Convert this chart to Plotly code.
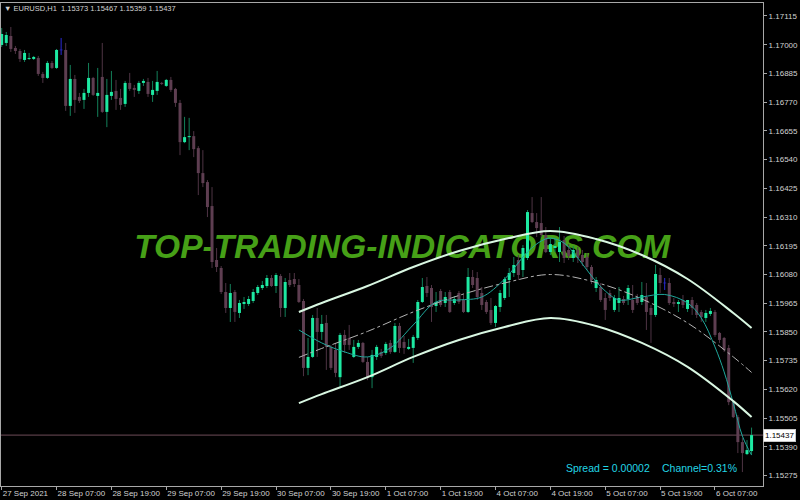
import plotly.graph_objects as go

# ---------------- data (EURUSD H1) ----------------
opens = [1.16999, 1.17007, 1.17035, 1.16987, 1.16975, 1.16939, 1.16943, 1.16943, 1.16947, 1.16883,
         1.16867, 1.16927, 1.16907, 1.16979, 1.16979, 1.16755, 1.16863, 1.16791, 1.16779, 1.16807,
         1.16867, 1.16795, 1.16871, 1.16731, 1.16795, 1.16815, 1.16787, 1.16763, 1.16847, 1.16827,
         1.16815, 1.16847, 1.16851, 1.16799, 1.16815, 1.16847, 1.16835, 1.16859, 1.16823, 1.16767,
         1.16610, 1.16630, 1.16634, 1.16586, 1.16486, 1.16450, 1.16354, 1.16138, 1.16106, 1.16010,
         1.15946, 1.16010, 1.15926, 1.15962, 1.15962, 1.15974, 1.16006, 1.16026, 1.16034, 1.16066,
         1.16034, 1.16074, 1.15946, 1.16058, 1.16062, 1.16038, 1.15974, 1.15706, 1.15750, 1.15906,
         1.15850, 1.15886, 1.15790, 1.15778, 1.15669, 1.15838, 1.15826, 1.15750, 1.15790, 1.15806,
         1.15730, 1.15669, 1.15750, 1.15770, 1.15766, 1.15806, 1.15770, 1.15874, 1.15810, 1.15782,
         1.15786, 1.15826, 1.15970, 1.16034, 1.16026, 1.15954, 1.16014, 1.15966, 1.16010, 1.15966,
         1.16006, 1.15978, 1.15930, 1.16070, 1.16066, 1.16006, 1.15970, 1.15938, 1.15886, 1.15950,
         1.15986, 1.16058, 1.16086, 1.16138, 1.16098, 1.16146, 1.16326, 1.16290, 1.16286, 1.16238,
         1.16170, 1.16186, 1.16170, 1.16218, 1.16178, 1.16146, 1.16178, 1.16158, 1.16150, 1.16110,
         1.16026, 1.16030, 1.15986, 1.16006, 1.15938, 1.15966, 1.15982, 1.15982, 1.15978, 1.15990,
         1.15970, 1.15990, 1.15946, 1.15918, 1.16078, 1.16046, 1.16046, 1.15970, 1.15962, 1.15978,
         1.15942, 1.15978, 1.15958, 1.15930, 1.15906, 1.15922, 1.15930, 1.15846, 1.15826, 1.15786,
         1.15569, 1.15509, 1.15409, 1.15361, 1.15373]
highs = [1.17067, 1.17051, 1.17071, 1.16995, 1.16983, 1.16979, 1.16967, 1.16955, 1.16955, 1.16891,
         1.16935, 1.16935, 1.16983, 1.17027, 1.17007, 1.16919, 1.16879, 1.16807, 1.16823, 1.16927,
         1.16871, 1.16907, 1.17007, 1.16863, 1.16895, 1.16859, 1.16823, 1.16855, 1.16887, 1.16839,
         1.16855, 1.16863, 1.16867, 1.16855, 1.16895, 1.16851, 1.16863, 1.16871, 1.16827, 1.16779,
         1.16711, 1.16707, 1.16654, 1.16594, 1.16578, 1.16458, 1.16430, 1.16186, 1.16114, 1.16046,
         1.16042, 1.16018, 1.15978, 1.15990, 1.15994, 1.16022, 1.16038, 1.16054, 1.16078, 1.16078,
         1.16086, 1.16082, 1.16066, 1.16086, 1.16086, 1.16062, 1.15982, 1.15826, 1.15918, 1.15946,
         1.15918, 1.15918, 1.15798, 1.15806, 1.15846, 1.15858, 1.15878, 1.15818, 1.15818, 1.15810,
         1.15750, 1.15778, 1.15798, 1.15782, 1.15810, 1.15818, 1.15886, 1.15886, 1.15834, 1.15822,
         1.15838, 1.15978, 1.16066, 1.16070, 1.16038, 1.16010, 1.16022, 1.16010, 1.16018, 1.15994,
         1.16014, 1.15998, 1.16106, 1.16098, 1.16090, 1.16030, 1.15978, 1.15986, 1.15958, 1.16018,
         1.16070, 1.16106, 1.16150, 1.16158, 1.16198, 1.16338, 1.16390, 1.16326, 1.16390, 1.16270,
         1.16226, 1.16226, 1.16270, 1.16234, 1.16202, 1.16194, 1.16190, 1.16178, 1.16166, 1.16118,
         1.16070, 1.16046, 1.16006, 1.16018, 1.15998, 1.16030, 1.15994, 1.16038, 1.16038, 1.16002,
         1.16050, 1.16046, 1.15958, 1.16118, 1.16106, 1.16066, 1.16066, 1.15986, 1.15978, 1.15998,
         1.15978, 1.15990, 1.15966, 1.15938, 1.15938, 1.15946, 1.15938, 1.15850, 1.15830, 1.15798,
         1.15577, 1.15517, 1.15425, 1.15417, 1.15467]
lows = [1.16991, 1.16995, 1.16971, 1.16963, 1.16931, 1.16931, 1.16939, 1.16939, 1.16875, 1.16847,
        1.16863, 1.16903, 1.16903, 1.16959, 1.16735, 1.16715, 1.16727, 1.16767, 1.16743, 1.16791,
        1.16795, 1.16711, 1.16727, 1.16670, 1.16779, 1.16739, 1.16739, 1.16751, 1.16815, 1.16791,
        1.16803, 1.16835, 1.16791, 1.16771, 1.16799, 1.16839, 1.16831, 1.16811, 1.16751, 1.16558,
        1.16606, 1.16578, 1.16550, 1.16398, 1.16430, 1.16310, 1.16106, 1.16090, 1.16002, 1.15926,
        1.15890, 1.15890, 1.15906, 1.15942, 1.15954, 1.15966, 1.15998, 1.16018, 1.16026, 1.16030,
        1.16006, 1.15910, 1.15910, 1.16030, 1.16030, 1.15966, 1.15673, 1.15677, 1.15746, 1.15750,
        1.15818, 1.15698, 1.15698, 1.15669, 1.15629, 1.15766, 1.15778, 1.15746, 1.15782, 1.15726,
        1.15657, 1.15625, 1.15738, 1.15746, 1.15758, 1.15762, 1.15766, 1.15766, 1.15762, 1.15778,
        1.15726, 1.15818, 1.15966, 1.15990, 1.15890, 1.15930, 1.15950, 1.15950, 1.15926, 1.15958,
        1.15962, 1.15926, 1.15926, 1.16026, 1.15978, 1.15938, 1.15922, 1.15878, 1.15870, 1.15930,
        1.15978, 1.15990, 1.16070, 1.16058, 1.16070, 1.16138, 1.16286, 1.16230, 1.16230, 1.16166,
        1.16158, 1.16170, 1.16130, 1.16126, 1.16138, 1.16130, 1.16126, 1.16114, 1.16098, 1.16042,
        1.16010, 1.15970, 1.15898, 1.15974, 1.15930, 1.15930, 1.15958, 1.15958, 1.15926, 1.15958,
        1.15958, 1.15858, 1.15806, 1.15910, 1.16006, 1.16018, 1.15958, 1.15950, 1.15930, 1.15946,
        1.15930, 1.15918, 1.15906, 1.15890, 1.15890, 1.15914, 1.15830, 1.15806, 1.15770, 1.15557,
        1.15505, 1.15365, 1.15289, 1.15357, 1.15359]
closes = [1.17043, 1.17039, 1.16983, 1.16975, 1.16943, 1.16967, 1.16947, 1.16951, 1.16883, 1.16867,
          1.16927, 1.16907, 1.16979, 1.16979, 1.16755, 1.16863, 1.16779, 1.16775, 1.16807, 1.16867,
          1.16799, 1.16807, 1.16731, 1.16799, 1.16811, 1.16783, 1.16759, 1.16847, 1.16823, 1.16819,
          1.16847, 1.16855, 1.16803, 1.16819, 1.16851, 1.16843, 1.16859, 1.16819, 1.16767, 1.16610,
          1.16630, 1.16634, 1.16582, 1.16486, 1.16446, 1.16350, 1.16130, 1.16110, 1.16010, 1.15946,
          1.16006, 1.15930, 1.15966, 1.15970, 1.15982, 1.16010, 1.16030, 1.16038, 1.16066, 1.16034,
          1.16078, 1.15946, 1.16050, 1.16038, 1.16042, 1.15970, 1.15706, 1.15750, 1.15906, 1.15850,
          1.15882, 1.15790, 1.15706, 1.15686, 1.15838, 1.15798, 1.15798, 1.15790, 1.15806, 1.15730,
          1.15665, 1.15758, 1.15790, 1.15754, 1.15802, 1.15770, 1.15874, 1.15786, 1.15786, 1.15790,
          1.15830, 1.15970, 1.16030, 1.16006, 1.15950, 1.15970, 1.15958, 1.15990, 1.15930, 1.15982,
          1.15970, 1.15930, 1.16070, 1.16038, 1.15990, 1.15958, 1.15930, 1.15886, 1.15954, 1.16006,
          1.16062, 1.16086, 1.16118, 1.16078, 1.16186, 1.16330, 1.16290, 1.16266, 1.16238, 1.16170,
          1.16202, 1.16194, 1.16210, 1.16146, 1.16154, 1.16178, 1.16146, 1.16130, 1.16110, 1.16058,
          1.16058, 1.15978, 1.15938, 1.15986, 1.15986, 1.15986, 1.15966, 1.16026, 1.15938, 1.15966,
          1.15998, 1.15930, 1.15918, 1.16082, 1.16046, 1.16046, 1.15966, 1.15962, 1.15970, 1.15958,
          1.15978, 1.15946, 1.15918, 1.15910, 1.15926, 1.15934, 1.15838, 1.15818, 1.15778, 1.15569,
          1.15509, 1.15409, 1.15365, 1.15377, 1.15437]

x_tick_bars = [0, 12, 24, 36, 48, 60, 72, 84, 96, 108, 120, 132, 144, 156]
x_tick_labels = ["27 Sep 2021", "28 Sep 07:00", "28 Sep 19:00", "29 Sep 07:00", "29 Sep 19:00",
                 "30 Sep 07:00", "30 Sep 19:00", "1 Oct 07:00", "1 Oct 19:00", "4 Oct 07:00",
                 "4 Oct 19:00", "5 Oct 07:00", "5 Oct 19:00", "6 Oct 07:00"]
y_ticks = [1.15275, 1.15390, 1.15505, 1.15620, 1.15735, 1.15850, 1.15965, 1.16080, 1.16195,
           1.16310, 1.16425, 1.16540, 1.16655, 1.16770, 1.16885, 1.17000, 1.17115]

# regression channel (read at sample bars)
chan_bars = [65, 70, 80, 90, 100, 110, 120, 130, 140, 150, 160, 164]
chan_upper = [1.15930, 1.15966, 1.16034, 1.16110, 1.16174, 1.16222, 1.16254, 1.16222, 1.16158,
              1.16062, 1.15926, 1.15866]
chan_mid = [1.15748, 1.15784, 1.15852, 1.15930, 1.15996, 1.16046, 1.16080, 1.16048, 1.15982,
            1.15886, 1.15750, 1.15688]
chan_lower = [1.15565, 1.15601, 1.15669, 1.15750, 1.15818, 1.15870, 1.15906, 1.15874, 1.15806,
              1.15710, 1.15573, 1.15509]

# smoothing line
smooth_bars = [65, 70, 75, 80, 85, 90, 95, 100, 105, 110, 115, 118, 120, 123, 126, 129, 132, 135,
               140, 145, 150, 153, 156, 158, 160, 162, 164]
smooth_vals = [1.15858, 1.15806, 1.15770, 1.15750, 1.15786, 1.15878, 1.15970, 1.15978, 1.15990,
               1.16062, 1.16170, 1.16214, 1.16226, 1.16206, 1.16146, 1.16074, 1.16014, 1.15978,
               1.15990, 1.16000, 1.15966, 1.15906, 1.15790, 1.15690, 1.15565, 1.15433, 1.15357]

symbol = "EURUSD,H1"
spread_text = "Spread = 0.00002"
channel_text = "Channel=0.31%"
watermark = "TOP-TRADING-INDICATORS.COM"

# ---------------- styling ----------------
BULL_BODY = "#1de9a2"
BULL_WICK = "#13805a"
BEAR_BODY = "#5e3e51"
BEAR_WICK = "#4e3444"
DOJI = "#2a2ad8"
FONT = "Liberation Sans"

n = len(opens)
MIN_BODY = 0.000025

wick = {"bull": ([], []), "bear": ([], []), "doji": ([], [])}
body = {"bull": ([], []), "bear": ([], []), "doji": ([], [])}
for i in range(n):
    o, h, l, c = opens[i], highs[i], lows[i], closes[i]
    kind = "bull" if c > o else ("bear" if c < o else "doji")
    wx, wy = wick[kind]
    wx += [i, i, None]
    wy += [h, l, None]
    lo, hi = min(o, c), max(o, c)
    if hi - lo < MIN_BODY:
        mid = (hi + lo) / 2
        lo, hi = mid - MIN_BODY / 2, mid + MIN_BODY / 2
    bx, by = body[kind]
    bx += [i, i, None]
    by += [lo, hi, None]

fig = go.Figure()

# watermark (drawn first so the chart sits on top of it)
fig.add_trace(go.Scatter(
    x=[87.6], y=[1.16178], mode="text", text=[watermark],
    textfont=dict(family=FONT, size=33.5, color="#46a017", weight="bold", style="italic"),
    hoverinfo="skip", showlegend=False))

wick_col = {"bull": BULL_WICK, "bear": BEAR_WICK, "doji": DOJI}
body_col = {"bull": BULL_BODY, "bear": BEAR_BODY, "doji": DOJI}
for k in ["bear", "bull", "doji"]:
    fig.add_trace(go.Scatter(x=wick[k][0], y=wick[k][1], mode="lines",
                             line=dict(color=wick_col[k], width=1),
                             hoverinfo="skip", showlegend=False))
for k in ["bear", "bull", "doji"]:
    fig.add_trace(go.Scatter(x=body[k][0], y=body[k][1], mode="lines",
                             line=dict(color=body_col[k], width=3),
                             hoverinfo="skip", showlegend=False))

# indicator lines
fig.add_trace(go.Scatter(x=smooth_bars, y=smooth_vals, mode="lines", line_shape="spline",
                         line=dict(color="#1fa89c", width=1), hoverinfo="skip", showlegend=False))
fig.add_trace(go.Scatter(x=chan_bars, y=chan_mid, mode="lines", line_shape="spline",
                         line=dict(color="#b4b4b4", width=1, dash="dashdot"),
                         hoverinfo="skip", showlegend=False))
for arr in (chan_upper, chan_lower):
    fig.add_trace(go.Scatter(x=chan_bars, y=arr, mode="lines", line_shape="spline",
                             line=dict(color="#d9f7e2", width=2),
                             hoverinfo="skip", showlegend=False))

last_close = closes[-1]
fig.add_shape(type="line", xref="paper", x0=0, x1=1, yref="y", y0=last_close, y1=last_close,
              line=dict(color="#6e4c58", width=1), layer="below")

AX = "#a8a8a8"
fig.update_layout(
    width=800, height=500,
    margin=dict(l=1, r=37, t=3, b=14, autoexpand=False),
    paper_bgcolor="black", plot_bgcolor="black",
    showlegend=False, hovermode=False,
    xaxis=dict(range=[-0.15, 166.5], showgrid=False, zeroline=False,
               tickmode="array", tickvals=x_tick_bars, ticktext=x_tick_labels,
               ticks="outside", ticklen=3, tickcolor=AX, tickwidth=1, tickangle=0,
               ticklabelposition="outside right", ticklabelstandoff=-1,
               tickfont=dict(family=FONT, size=8, color="#d2d2d2"),
               showline=True, linecolor=AX, linewidth=1, mirror=True, automargin=False),
    yaxis=dict(range=[1.152332, 1.171670], side="right", showgrid=False, zeroline=False,
               tickmode="array", tickvals=y_ticks, tickformat=".5f",
               ticks="outside", ticklen=3, tickcolor=AX, tickwidth=1,
               tickfont=dict(family=FONT, size=8, color="#d2d2d2"),
               showline=True, linecolor=AX, linewidth=1, mirror=True, automargin=False),
)

header = "\u25bc\u00a0" + symbol + "\u00a0\u00a0" + "\u00a0".join(
    f"{v:.5f}" for v in (opens[-1], highs[-1], lows[-1], closes[-1]))
fig.add_annotation(xref="paper", yref="paper", x=0.0015, y=0.9896, xanchor="left", yanchor="middle",
                   text=header, showarrow=False,
                   font=dict(family=FONT, size=7.5, color="#d2d2d2"))
fig.add_annotation(xref="paper", yref="paper", x=0.7388, y=0.0373, xanchor="left", yanchor="middle",
                   text=spread_text.replace(" ", "\u00a0"), showarrow=False,
                   font=dict(family=FONT, size=10.5, color="#22d6e6"))
fig.add_annotation(xref="paper", yref="paper", x=0.8648, y=0.0373, xanchor="left", yanchor="middle",
                   text=channel_text, showarrow=False,
                   font=dict(family=FONT, size=10.5, color="#22d6e6"))
fig.add_annotation(xref="paper", yref="y", x=1.0, y=last_close, xanchor="left", yanchor="middle",
                   text=f"{last_close:.5f}", showarrow=False, bgcolor="white",
                   bordercolor="#c8c8c8", borderwidth=1, borderpad=1,
                   font=dict(family=FONT, size=8, color="black"))

fig.write_html("out.html",
               config={"displayModeBar": False},
               post_script="document.body.style.margin='0px';"
                           "document.body.style.background='black';"
                           "document.body.style.overflow='hidden';")
